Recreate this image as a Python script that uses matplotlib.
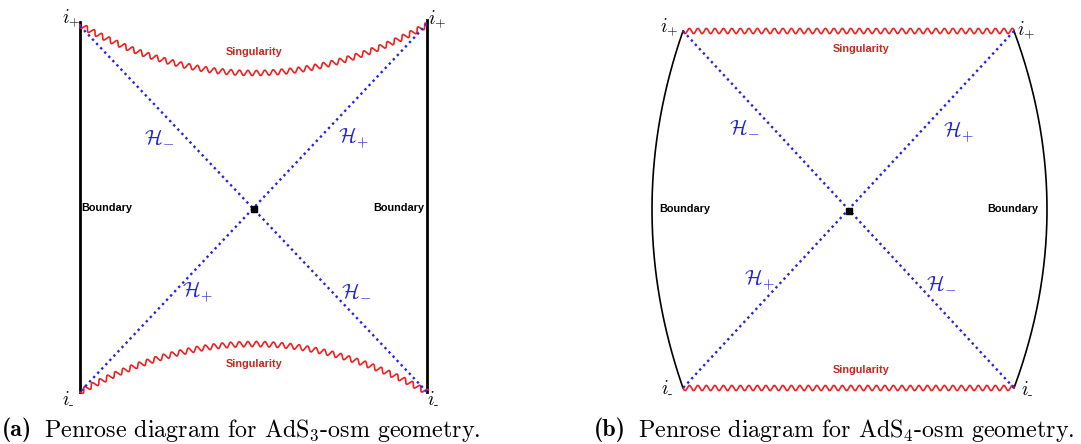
import numpy as np
import matplotlib
matplotlib.use("Agg")
import matplotlib.pyplot as plt

plt.rcParams["mathtext.fontset"] = "cm"

# Corner points (i+, i-) of each Penrose diagram, in figure pixels (y down)
left_corners = {"tl": (80, 26), "tr": (427, 24), "bl": (80, 392), "br": (427, 392)}
right_corners = {"tl": (683, 31), "tr": (1014, 31), "bl": (683, 388), "br": (1014, 388)}

caption_tags = ["(a)", "(b)"]
caption_texts = [r"Penrose diagram for AdS$_3$-osm geometry.",
                 r"Penrose diagram for AdS$_4$-osm geometry."]

RED = "#f02020"
BLUE = "#2424e0"
LABEL_RED = "#c8281e"

fig = plt.figure(figsize=(10.81, 4.44), dpi=100)
ax = fig.add_axes([0, 0, 1, 1])
ax.set_xlim(0, 1081)
ax.set_ylim(444, 0)
ax.axis("off")


def wavy(x, y, amp=2.6, wavelength=8.5, **kw):
    """Draw a sinusoidal wiggle following the polyline (x, y)."""
    x = np.asarray(x, float)
    y = np.asarray(y, float)
    dx, dy = np.gradient(x), np.gradient(y)
    seg = np.hypot(np.diff(x), np.diff(y))
    s = np.concatenate([[0], np.cumsum(seg)])
    n = np.hypot(dx, dy)
    nx, ny = -dy / n, dx / n
    off = amp * np.sin(2 * np.pi * s / wavelength)
    ax.plot(x + nx * off, y + ny * off, **kw)


def horizons(c, center):
    for a, b in [("tl", "br"), ("tr", "bl")]:
        ax.plot([c[a][0], c[b][0]], [c[a][1], c[b][1]], color=BLUE,
                lw=1.7, ls=(0, (1, 1.5)))
    ax.plot(*center, marker="s", ms=4.5, color="black")


def small_label(x, y, s, color="black"):
    ax.text(x, y, s, color=color, fontsize=7.8, fontweight="bold",
            ha="center", va="center", family="Liberation Sans")


def corner(x, y, sign):
    sub = "+" if sign == "+" else r"\text{-}"
    ax.text(x, y, r"$i_{%s}$" % sub, fontsize=14, ha="center", va="center")


def horizon_label(x, y, sign):
    sub = "+" if sign == "+" else "-"
    ax.text(x, y, r"$\mathcal{H}_{%s}$" % sub, color=BLUE, fontsize=15,
            ha="center", va="center")


# ---------- (a) AdS3 ----------
c = left_corners
ax.plot([c["tl"][0], c["bl"][0]], [c["tl"][1] - 4, c["bl"][1]], color="black", lw=2.0)
ax.plot([c["tr"][0], c["br"][0]], [c["tr"][1] - 4, c["br"][1]], color="black", lw=2.0)

xs = np.linspace(c["tl"][0], c["tr"][0], 1500)
xm, hw = (c["tl"][0] + c["tr"][0]) / 2, (c["tr"][0] - c["tl"][0]) / 2
u = (xs - xm) / hw
wavy(xs, 73 - 48 * u ** 2, color=RED, lw=1.2)
wavy(xs, 344 + 48 * u ** 2, color=RED, lw=1.2)
horizons(c, (254, 209))

small_label(254, 52, "Singularity", LABEL_RED)
small_label(254, 364, "Singularity", LABEL_RED)
small_label(107, 208, "Boundary")
small_label(399, 208, "Boundary")
corner(71, 18, "+")
corner(437, 19, "+")
corner(68, 398, "-")
corner(433, 398, "-")
for hx, hy, s in [(159, 137, "-"), (354, 138, "+"), (198, 292, "+"), (356, 291, "-")]:
    horizon_label(hx, hy, s)

# ---------- (b) AdS4 ----------
c = right_corners
ys = np.linspace(c["tl"][1], c["bl"][1], 400)
ym, hh = (c["tl"][1] + c["bl"][1]) / 2, (c["bl"][1] - c["tl"][1]) / 2
v = (ys - ym) / hh
ax.plot(c["tl"][0] - 31 * (1 - v ** 2), ys, color="black", lw=1.2)
ax.plot(c["tr"][0] + 33 * (1 - v ** 2), ys, color="black", lw=1.2)

xs = np.linspace(c["tl"][0], c["tr"][0], 1500)
wavy(xs, np.full_like(xs, c["tl"][1]), color=RED, lw=1.2)
wavy(xs, np.full_like(xs, c["bl"][1]), color=RED, lw=1.2)
horizons(c, (849, 211))

small_label(861, 49, "Singularity", LABEL_RED)
small_label(861, 370, "Singularity", LABEL_RED)
small_label(685, 209, "Boundary")
small_label(1013, 209, "Boundary")
corner(669, 27, "+")
corner(1026, 30, "+")
corner(667, 387, "-")
corner(1027, 388, "-")
for hx, hy, s in [(744, 127, "-"), (959, 132, "+"), (760, 280, "+"), (941, 283, "-")]:
    horizon_label(hx, hy, s)

# ---------- captions ----------
fig.canvas.draw()
for x0, tag, txt in [(2, caption_tags[0], caption_texts[0]),
                     (594, caption_tags[1], caption_texts[1])]:
    t = ax.text(x0, 430, tag, fontsize=17.3, family="cmb10", ha="left", va="center")
    bb = t.get_window_extent(renderer=fig.canvas.get_renderer())
    ax.text(x0 + bb.width + 12, 430, txt, fontsize=17.3, family="cmr10",
            ha="left", va="center")

fig.savefig("out.png", dpi=100)
